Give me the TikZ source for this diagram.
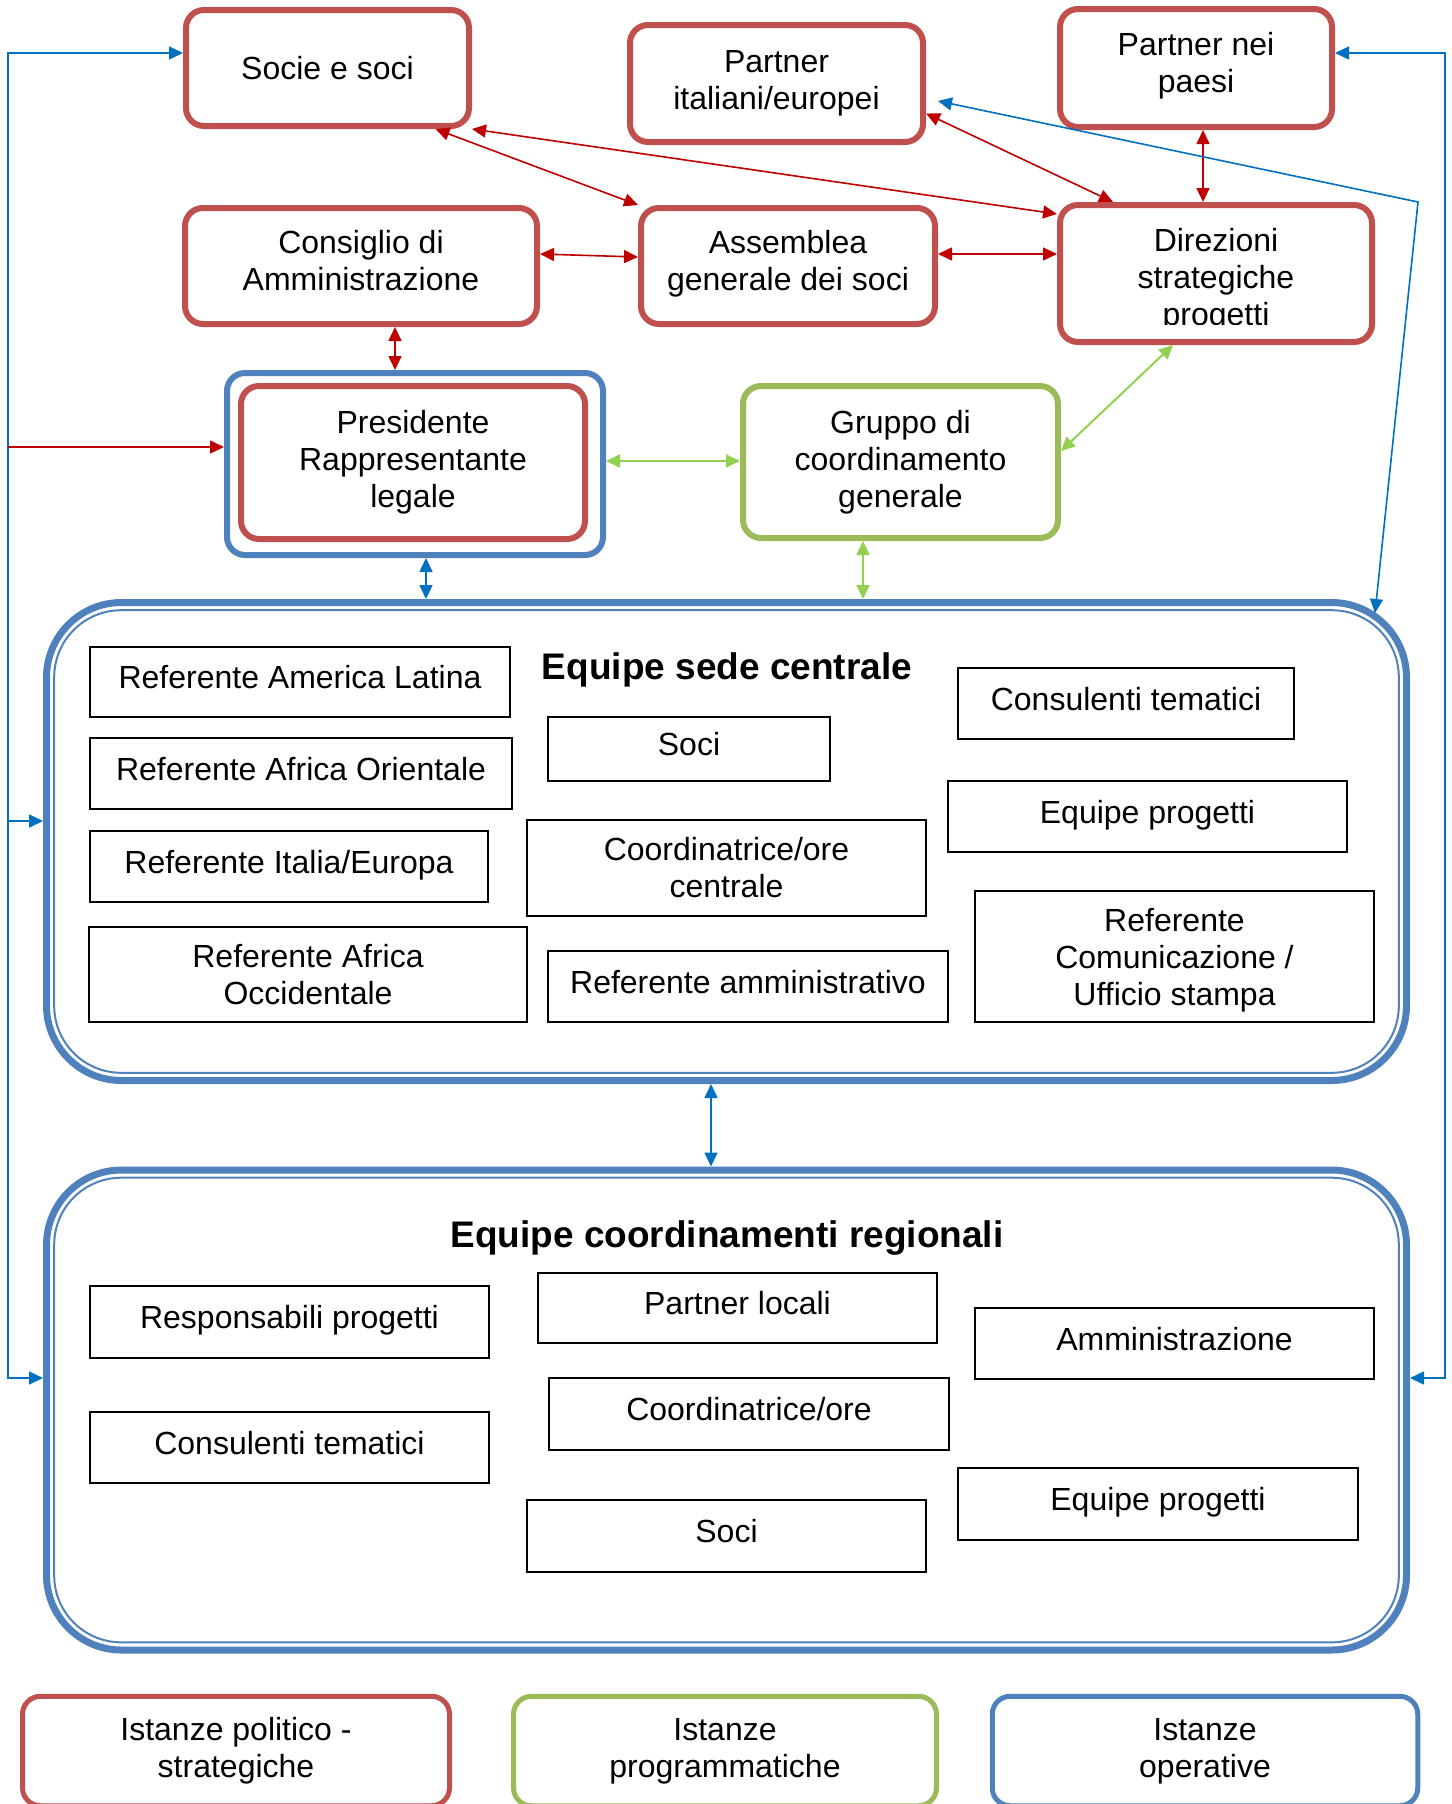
\documentclass[tikz,border=0pt]{standalone}
\usepackage{fontspec}
\setmainfont{Liberation Sans}
\usetikzlibrary{arrows.meta, positioning}
\definecolor{polred}{HTML}{C0504D}
\definecolor{proggreen}{HTML}{9BBB59}
\definecolor{opblue}{HTML}{4F81BD}
\definecolor{linkred}{HTML}{C00000}
\definecolor{linkblue}{HTML}{0070C0}
\definecolor{linkgreen}{HTML}{92D050}

\begin{document}
\begin{tikzpicture}[x=0.5pt,y=-0.5pt,font=\fontsize{16}{18.5}\selectfont,
  >={Triangle[length=7pt,width=6.5pt]},
  polbox/.style={draw=polred,line width=3pt,rounded corners=9pt,align=center,inner sep=0pt},
  progbox/.style={polbox,draw=proggreen},
  opbox/.style={polbox,draw=opblue},
  legbox/.style={polbox,line width=2.5pt},
  teambox/.style={draw=opblue,line width=3.5pt,rounded corners=37.5pt,minimum width=680pt,inner sep=0pt},
  teamline/.style={draw=opblue,line width=1pt,rounded corners=33.5pt},
  teamtitle/.style={font=\fontsize{18.5}{22}\selectfont\bfseries},
  unitbox/.style={draw,line width=1pt,align=center,inner sep=0pt},
  oneline/.style={unitbox,text height=11.7pt,text depth=4.8pt},
  redlink/.style={linkred,line width=0.8pt},
  bluelink/.style={linkblue,line width=0.8pt},
  greenlink/.style={linkgreen,line width=1pt}]
\clip (0,0) rectangle (1451,1804);

% istanze politico-strategiche
\node[polbox,minimum width=141.5pt,minimum height=58pt] (socie) at (327.5,68) {Socie e soci};
\node[polbox,minimum width=146.5pt,minimum height=58.5pt] (partIt) at (776.5,83.5) {Partner\\italiani/europei};
\node[polbox,minimum width=136pt,minimum height=59pt,text depth=5.8pt] (partPaesi) at (1196,68) {Partner nei\\paesi};
\node[polbox,minimum width=176pt,minimum height=58pt,text depth=5.8pt] (consiglio) at (361,266) {Consiglio di\\Amministrazione};
\node[polbox,minimum width=147pt,minimum height=58pt,text depth=5.8pt] (assemblea) at (788,266) {Assemblea\\generale dei soci};
\node[polbox,minimum width=156pt,minimum height=68.5pt] (direz) at (1216,273.5) {};
\begin{scope}
\clip (1060,205) rectangle (1372,324);
\node[align=center] (direzT) at (1216,280.5) {Direzioni\\strategiche\\progetti};
\end{scope}
\node[opbox,minimum width=188pt,minimum height=91pt] (presOut) at (415,464) {};
\node[polbox,minimum width=172pt,minimum height=76.5pt] (pres) at (413,462.5) {Presidente\\Rappresentante\\legale};
\node[progbox,minimum width=157.5pt,minimum height=76pt] (gruppo) at (900.5,462) {Gruppo di\\coordinamento\\generale};

% equipe sede centrale
\node[teambox,minimum height=239pt] (sede) at (726.5,841.5) {};
\draw[teamline] ([shift={(5.6pt,-5.6pt)}]sede.north west) rectangle ([shift={(-5.6pt,5.6pt)}]sede.south east);
\node[teamtitle] (sedeT) at (727,670) {Equipe sede centrale};
\node[oneline,minimum width=210pt,minimum height=35pt] (refAL) at (300,682) {Referente America Latina};
\node[oneline,minimum width=211pt,minimum height=35.5pt] (refAO) at (301,773.5) {Referente Africa Orientale};
\node[oneline,minimum width=199pt,minimum height=35.5pt] (refIE) at (289,866.5) {Referente Italia/Europa};
\node[unitbox,minimum width=219pt,minimum height=47.5pt] (refAOc) at (308,974.5) {Referente Africa\\Occidentale};
\node[oneline,minimum width=141pt,minimum height=32pt] (sociS) at (689,749) {Soci};
\node[unitbox,minimum width=199.5pt,minimum height=48pt] (coordS) at (726.5,868) {Coordinatrice/ore\\centrale};
\node[oneline,minimum width=200pt,minimum height=35.5pt] (refAmm) at (748,986.5) {Referente amministrativo};
\node[oneline,minimum width=168pt,minimum height=35.5pt] (consS) at (1126,703.5) {Consulenti tematici};
\node[oneline,minimum width=199.5pt,minimum height=35.5pt] (eqProgS) at (1147.5,816.5) {Equipe progetti};
\node[unitbox,minimum width=199.5pt,minimum height=65.5pt,text depth=0pt] (refCom) at (1174.5,956.5) {Referente\\Comunicazione /\\Ufficio stampa};

% equipe coordinamenti regionali
\node[teambox,minimum height=240pt] (reg) at (726.5,1410) {};
\draw[teamline] ([shift={(5.6pt,-5.6pt)}]reg.north west) rectangle ([shift={(-5.6pt,5.6pt)}]reg.south east);
\node[teamtitle] (regT) at (727,1238) {Equipe coordinamenti regionali};
\node[oneline,minimum width=199.5pt,minimum height=36pt] (respProg) at (289.5,1322) {Responsabili progetti};
\node[oneline,minimum width=199.5pt,minimum height=35.5pt] (consR) at (289.5,1447.5) {Consulenti tematici};
\node[oneline,minimum width=199.5pt,minimum height=35pt] (partLoc) at (737.5,1308) {Partner locali};
\node[oneline,minimum width=200pt,minimum height=36pt] (coordR) at (749,1414) {Coordinatrice/ore};
\node[oneline,minimum width=199.5pt,minimum height=36pt] (sociR) at (726.5,1536) {Soci};
\node[oneline,minimum width=199.5pt,minimum height=35.5pt] (ammR) at (1174.5,1343.5) {Amministrazione};
\node[oneline,minimum width=200pt,minimum height=36pt] (eqProgR) at (1158,1504) {Equipe progetti};

% legenda
\node[legbox,minimum width=213.5pt,minimum height=54.75pt] (legPol) at (236,1751) {Istanze politico -\\strategiche};
\node[legbox,draw=proggreen,minimum width=211.5pt,minimum height=54.75pt] (legProg) at (725,1751) {Istanze\\programmatiche};
\node[legbox,draw=opblue,minimum width=212.75pt,minimum height=54.75pt] (legOp) at (1205,1751) {Istanze\\operative};

\coordinate (lTop) at (8,53);
\coordinate (lPres) at (8,447);
\coordinate (lSede) at (8,821);
\coordinate (lBot) at (8,1378);
\coordinate (rTop) at (1445,53);
\coordinate (rBot) at (1445,1378);
\coordinate (bendR) at (1418,202);

% collegamenti rossi
\draw[redlink,<->] ([xshift=17pt]consiglio.south) -- ([xshift=-10pt]presOut.north);
\draw[redlink,<->] ([yshift=6pt]consiglio.east) -- ([yshift=4.5pt]assemblea.west);
\draw[redlink,<->] ([yshift=6pt]assemblea.east) -- ([yshift=6pt]assemblea.east -| direz.west);
\draw[redlink,<->] ([xshift=54pt]socie.south) -- (assemblea.north west);
\draw[redlink,<->] (socie.south east) -- ([yshift=-6pt]direz.north west);
\draw[redlink,<->] ([yshift=-15pt]partIt.east) -- ([xshift=-51.5pt]direz.north);
\draw[redlink,<->] ([xshift=3.5pt]partPaesi.south) -- ([xshift=3.5pt]partPaesi.south |- direz.north);

% collegamenti verdi
\draw[greenlink,<->] ([yshift=1.5pt]presOut.east) -- ([yshift=1.5pt]presOut.east -| gruppo.west);
\draw[greenlink,<->] ([yshift=5.5pt]gruppo.east) -- ([xshift=-21.5pt]direz.south);
\draw[greenlink,<->] ([xshift=-18.75pt]gruppo.south) -- ([xshift=-18.75pt]gruppo.south |- sede.north);

% collegamenti blu
\draw[bluelink,<->] (lTop -| socie.west) -- (lTop) -- (lBot) -- (lBot -| reg.west);
\draw[bluelink,->] (lSede) -- (lSede -| sede.west);
\draw[redlink,->] (lPres) -- (lPres -| presOut.west);
\draw[bluelink,<->] (rTop -| partPaesi.east) -- (rTop) -- (rBot) -- (rBot -| reg.east);
\draw[bluelink,<->] ([xshift=6pt,yshift=-8.75pt]partIt.east) -- (bendR) -- ([xshift=-17.5pt,yshift=-7pt]sede.north east);
\draw[bluelink,<->] ([xshift=5.5pt]presOut.south) -- ([xshift=5.5pt]presOut.south |- sede.north);
\draw[bluelink,<->] ([xshift=-7.75pt]sede.south) -- ([xshift=-7.75pt]sede.south |- reg.north);
\end{tikzpicture}
\end{document}
